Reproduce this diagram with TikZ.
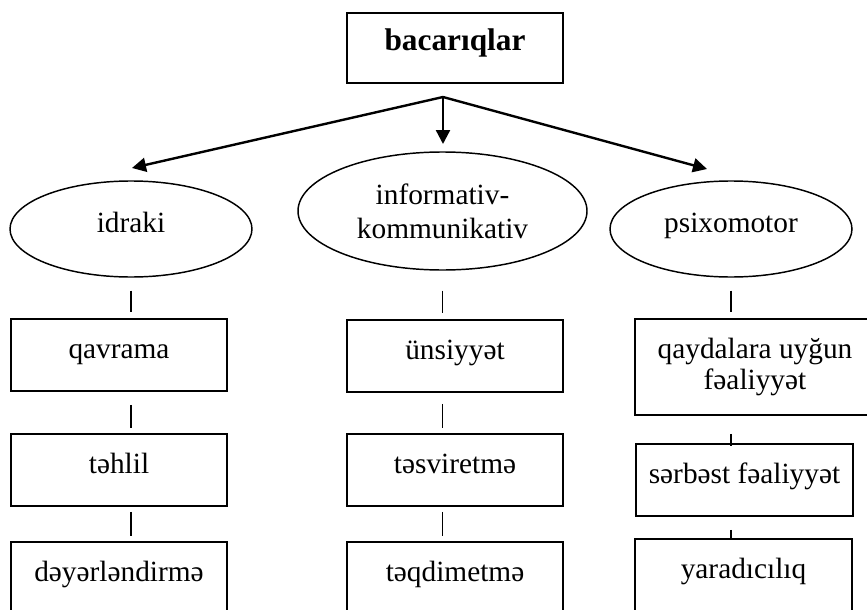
\documentclass[tikz,border=0pt]{standalone}
\usepackage{fontspec}
\setmainfont{Liberation Serif}
\usetikzlibrary{shapes,shapes.geometric}
\usetikzlibrary{positioning,arrows.meta}

\begin{document}
\begin{tikzpicture}[x=0.75pt,y=-0.75pt,
  font=\fontsize{22}{25.5}\selectfont,
  one/.style={text height=12pt,text depth=7.5pt},
  topbox/.style={draw,line width=1.4pt,inner sep=0pt,minimum width=162pt,minimum height=52.5pt,one,font=\fontsize{23.5}{26}\selectfont\bfseries},
  oval/.style={draw,ellipse,line width=1.1pt,inner sep=0pt,minimum width=181.5pt,minimum height=72pt,align=center},
  skill/.style={draw,line width=1.4pt,inner sep=0pt,minimum width=162pt,minimum height=54pt,align=center},
  branch/.style={line width=1.8pt,-{Triangle[length=10.5pt,width=10.5pt]}},
  tick/.style={line width=1.4pt}]
\useasboundingbox (0,0) rectangle (867,610);

\draw(455,48) node[topbox] (bacariqlar) {bacarıqlar};
\coordinate (split) at (443,97);
\coordinate (tipA) at (132,168);
\coordinate (tipB) at (443,144);
\coordinate (tipC) at (707,169);

\draw(131,229) node[oval,one] (idraki) {idraki};
\draw(442.5,211) node[oval,minimum width=216.75pt,minimum height=88.5pt] (info) {informativ-\\kommunikativ};
\draw(731,229) node[oval,one] (psixo) {psixomotor};

\draw[branch] (split) -- (tipA);
\draw[branch] (split) -- (tipB);
\draw[branch] (split) -- (tipC);

\draw(119,355) node[skill,one] (qavrama) {qavrama};
\draw(119,470) node[skill,one] (tehlil) {təhlil};
\draw(119,578) node[skill,one] (deyer) {dəyərləndirmə};

\draw(455,356) node[skill,one] (unsiyyet) {ünsiyyət};
\draw(455,470) node[skill,one] (tesvir) {təsviretmə};
\draw(455,578) node[skill,one] (teqdim) {təqdimetmə};

\draw(755,367) node[skill,minimum width=180pt,minimum height=72pt,font=\fontsize{22}{23}\selectfont] (qayda) {qaydalara uyğun\\fəaliyyət};
\draw(744.5,480) node[skill,one,minimum width=162.75pt] (serbest) {sərbəst fəaliyyət};
\draw(743.5,575) node[skill,one,minimum width=162.75pt] (yarad) {yaradıcılıq};

\draw[tick,shorten <=9.75pt,shorten >=4.5pt] (idraki.south) -- (idraki.south |- qavrama.north);
\draw[tick,shorten <=9.75pt,shorten >=3.75pt] (idraki.south |- qavrama.south) -- (idraki.south |- tehlil.north);
\draw[tick,shorten <=3.75pt,shorten >=3.75pt] (idraki.south |- tehlil.south) -- (idraki.south |- deyer.north);

\draw[tick,shorten <=15pt,shorten >=4.5pt] (info.south) -- (info.south |- unsiyyet.north);
\draw[tick,shorten <=8.25pt,shorten >=3.75pt] (info.south |- unsiyyet.south) -- (info.south |- tesvir.north);
\draw[tick,shorten <=3.75pt,shorten >=3.75pt] (info.south |- tesvir.south) -- (info.south |- teqdim.north);

\draw[tick,shorten <=9.75pt,shorten >=4.5pt] (psixo.south) -- (psixo.south |- qayda.north);
\draw[tick,shorten <=13.5pt,shorten >=-2.25pt] (psixo.south |- qayda.south) -- (psixo.south |- serbest.north);
\draw[tick,shorten <=9.75pt] (psixo.south |- serbest.south) -- (psixo.south |- yarad.north);
\end{tikzpicture}
\end{document}
